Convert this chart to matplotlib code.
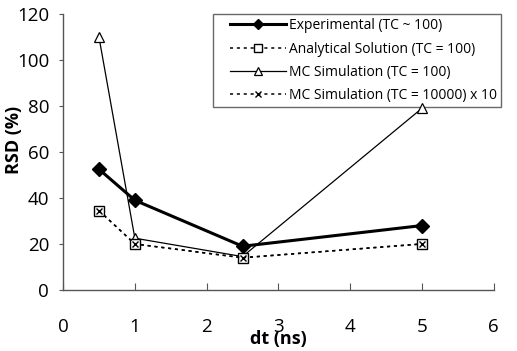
import matplotlib.pyplot as plt
from matplotlib.lines import Line2D
from matplotlib.legend_handler import HandlerLine2D

plt.rcParams['font.family'] = ['Open Sans', 'DejaVu Sans']

# data
dt = [0.5, 1, 2.5, 5]
experimental = [52.5, 39, 19, 28]
analytical = [34.5, 20, 14, 20]
mc_100 = [110, 22.5, 14.5, 79]
mc_10000_x10 = [34.5, 20, 14, 20]

labels = ['Experimental (TC ~ 100)',
          'Analytical Solution (TC = 100)',
          'MC Simulation (TC = 100)',
          'MC Simulation (TC = 10000) x 10']

fig = plt.figure(figsize=(5.17, 3.51), dpi=100)
ax = fig.add_axes([0.122, 0.174, 0.833, 0.786])

l1, = ax.plot(dt, experimental, color='black', lw=2.2, marker='D', ms=7,
              mfc='black', mec='black', zorder=5)
l2, = ax.plot(dt, analytical, color='black', lw=1.1, ls=(0, (2, 2.5)), marker='s', ms=7,
              mfc='white', mec='black', mew=1.0, zorder=3)
l3, = ax.plot(dt, mc_100, color='black', lw=0.9, marker='^', ms=7,
              mfc='white', mec='black', mew=0.9, zorder=2)
l4, = ax.plot(dt, mc_10000_x10, color='black', lw=1.1, ls=(0, (2, 2.5)), marker='x', ms=5,
              mec='black', mew=1.0, zorder=4)

ax.set_xlim(0, 6)
ax.set_ylim(0, 120)
ax.set_xticks(range(0, 7))
ax.set_yticks(range(0, 121, 20))

for s in ['top', 'right']:
    ax.spines[s].set_visible(False)
for s in ['left', 'bottom']:
    ax.spines[s].set_color('#555555')
    ax.spines[s].set_linewidth(1.0)

ax.tick_params(axis='y', direction='out', length=3, color='#555555', labelsize=13.5, pad=7)
ax.tick_params(axis='x', direction='in', length=5, color='#555555', labelsize=13.5, pad=20)

ax.set_xlabel('dt (ns)', fontsize=13, fontweight='bold')
ax.xaxis.set_label_coords(0.5, -0.145)
ax.set_ylabel('RSD (%)', fontsize=13, fontweight='bold')
ax.yaxis.set_label_coords(-0.093, 0.543)

# legend handles pushed in from the frame edge like the original
leg = ax.legend([l1, l2, l3, l4], labels, loc='upper left',
                bbox_to_anchor=(0.348, 1.0), fontsize=10, frameon=True,
                fancybox=False, edgecolor='#444444', handlelength=4.95,
                handletextpad=0.2, labelspacing=0.6, borderpad=0.3,
                borderaxespad=0.0, markerscale=0.75,
                handler_map={Line2D: HandlerLine2D(xpad=0.95)})
leg.get_frame().set_linewidth(1.0)
leg.set_zorder(1)

fig.savefig('out.png', dpi=100)
